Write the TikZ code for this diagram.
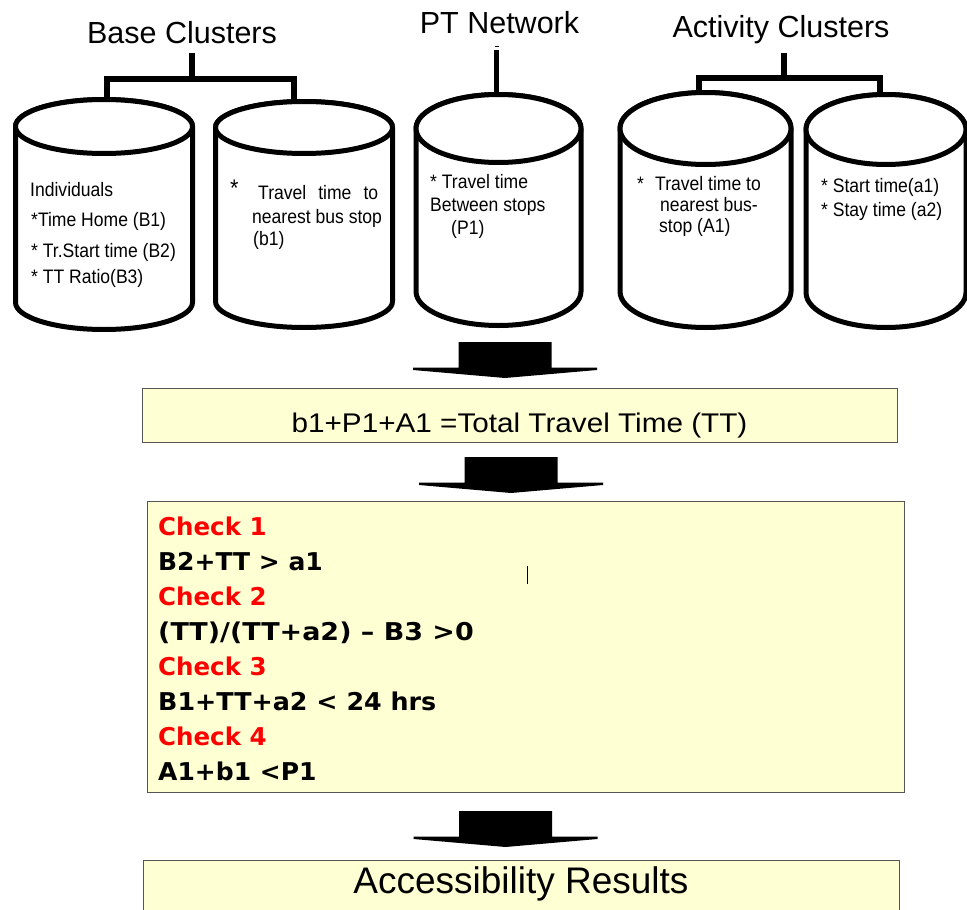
\documentclass[tikz,border=0pt]{standalone}
\usepackage{fontspec}
\setmainfont{Liberation Sans}
\newfontfamily\narrowfont[FakeStretch=0.9]{Liberation Sans}
\newfontfamily\chkfont{DejaVu Sans}
\definecolor{boxfill}{RGB}{255,255,212}
\definecolor{boxline}{RGB}{85,85,85}
\definecolor{chkred}{RGB}{255,0,0}
% cylinder: cx, rx, top ellipse cy, bottom ellipse cy, ry
\newcommand\drawcyl[5]{%
  \draw[cyl] (#1-#2,#3) -- (#1-#2,#4)
     arc[start angle=180,end angle=0,x radius=#2,y radius=#5]
     -- (#1+#2,#3)
     arc[start angle=0,end angle=-180,x radius=#2,y radius=#5] -- cycle;
  \draw[cyl] (#1,#3) ellipse[x radius=#2,y radius=#5];}
% block arrow: cx, top y
\newcommand\blkarrow[2]{%
  \fill[black] (#1-46.5,#2) -- (#1+46.5,#2) -- (#1+46.5,#2+25.5)
    -- (#1+92,#2+25.5) -- (#1+92,#2+28) -- (#1,#2+36)
    -- (#1-92,#2+28) -- (#1-92,#2+25.5) -- (#1-46.5,#2+25.5) -- cycle;}
\begin{document}
\begin{tikzpicture}[x=1pt,y=-1pt,
  cyl/.style={line width=5pt, fill=white, line join=round},
  brk/.style={line width=5.5pt, line join=miter},
  infobox/.style={draw=boxline, line width=1.3pt, fill=boxfill, inner sep=0pt, anchor=north west},
  ttl/.style={font=\fontsize{30.5}{33}\selectfont, anchor=base, inner sep=0pt},
  ctext/.style={font=\narrowfont\fontsize{19.5}{21}\selectfont, anchor=base west, inner sep=0pt},
  chk/.style={font=\chkfont\bfseries\fontsize{24.5}{26}\selectfont, anchor=base west, inner sep=0pt},
  chkhead/.style={chk, text=chkred},
]
\useasboundingbox (0,0) rectangle (967,910);
\clip (0,0) rectangle (967,910);

% titles
\node[ttl] (tbase) at (182,43) {Base Clusters};
\node[ttl] (tpt) at (499.5,34) {PT Network};
\node[ttl] (tact) at (781,37) {Activity Clusters};

% cylinders
\drawcyl{104}{88.5}{126.5}{302.5}{27}
\drawcyl{304}{88.5}{127.5}{301.5}{26}
\drawcyl{498.5}{82.5}{128.5}{291.5}{34}
\drawcyl{705.5}{85.5}{128.5}{291.5}{36}
\drawcyl{886}{80}{129.5}{292.5}{35}

% bracket coordinates
\coordinate (bstem) at (192,53);
\coordinate (bmid) at (192,79);
\coordinate (bl) at (107,79);
\coordinate (br) at (294,79);
\coordinate (blt) at (107,100);
\coordinate (brt) at (294,102);
\coordinate (astem) at (784,53);
\coordinate (amid) at (784,78);
\coordinate (al) at (699,78);
\coordinate (ar) at (880,78);
\coordinate (alt) at (699,95);
\coordinate (art) at (880,97);
\coordinate (pstem) at (496.5,50);
\coordinate (ptop) at (496.5,96);

\draw[brk] (bstem) -- (bmid);
\draw[brk] (blt) -- (bl) -- (br) -- (brt);
\draw[brk] (astem) -- (amid);
\draw[brk] (alt) -- (al) -- (ar) -- (art);
\draw[brk] (pstem) -- (ptop);
\draw[line width=1pt] (495,46) -- (498.5,46);

% cylinder texts
\node[ctext] (i1) at (30,196) {Individuals};
\node[ctext] (i2) at (31,226) {*Time Home (B1)};
\node[ctext] (i3) at (31,257) {* Tr.Start time (B2)};
\node[ctext] (i4) at (31,283) {* TT Ratio(B3)};

\node[ctext, font=\narrowfont\fontsize{24}{26}\selectfont] (s2) at (230,196) {*};
\node[ctext] (b1a) at (258,199) {\makebox[120pt][s]{Travel time to}};
\node[ctext] (b1b) at (252,223) {nearest bus stop};
\node[ctext] (b1c) at (253,245) {(b1)};

\node[ctext] (p1a) at (430,188) {* Travel time};
\node[ctext] (p1b) at (430,211) {Between stops};
\node[ctext] (p1c) at (451,234) {(P1)};

\node[ctext] (s4) at (637,190) {*};
\node[ctext] (a1a) at (655,190) {Travel time to};
\node[ctext] (a1b) at (660,211) {nearest bus-};
\node[ctext] (a1c) at (659,232) {stop (A1)};

\node[ctext] (a2a) at (821,192) {* Start time(a1)};
\node[ctext] (a2b) at (821,216) {* Stay time (a2)};

% boxes
\node[infobox, minimum width=755pt, minimum height=54pt] (ttbox) at (142,388) {};
\node[anchor=base, inner sep=0pt, font=\fontsize{27}{30}\selectfont] (tttext) at (519.5,432)
  {\scalebox{1.1}[1]{b1+P1+A1 =Total Travel Time (TT)}};

\node[infobox, minimum width=757pt, minimum height=291pt] (chkbox) at (147,501) {};
\node[chkhead] (c1) at (158,535) {Check 1};
\node[chk] (e1) at (158,570) {\scalebox{1.02}[1]{B2+TT > a1}};
\node[chkhead] (c2) at (158,605) {Check 2};
\node[chk] (e2) at (158,640) {\scalebox{1.1}[1]{(TT)/(TT+a2) – B3 >0}};
\node[chkhead] (c3) at (158,675) {Check 3};
\node[chk] (e3) at (158,710) {\scalebox{1.035}[1]{B1+TT+a2 < 24 hrs}};
\node[chkhead] (c4) at (158,745) {Check 4};
\node[chk] (e4) at (158,780) {\scalebox{1.02}[1]{A1+b1 <P1}};
\draw[line width=1pt] (527,566) -- (527,584);

\node[infobox, minimum width=756pt, minimum height=62pt] (resbox) at (143,860) {};
\node[anchor=base, inner sep=0pt, font=\fontsize{37}{40}\selectfont] (restext) at (521,893) {Accessibility Results};

% block arrows
\blkarrow{505}{342}
\blkarrow{511}{457}
\blkarrow{505.5}{811}
\end{tikzpicture}
\end{document}
